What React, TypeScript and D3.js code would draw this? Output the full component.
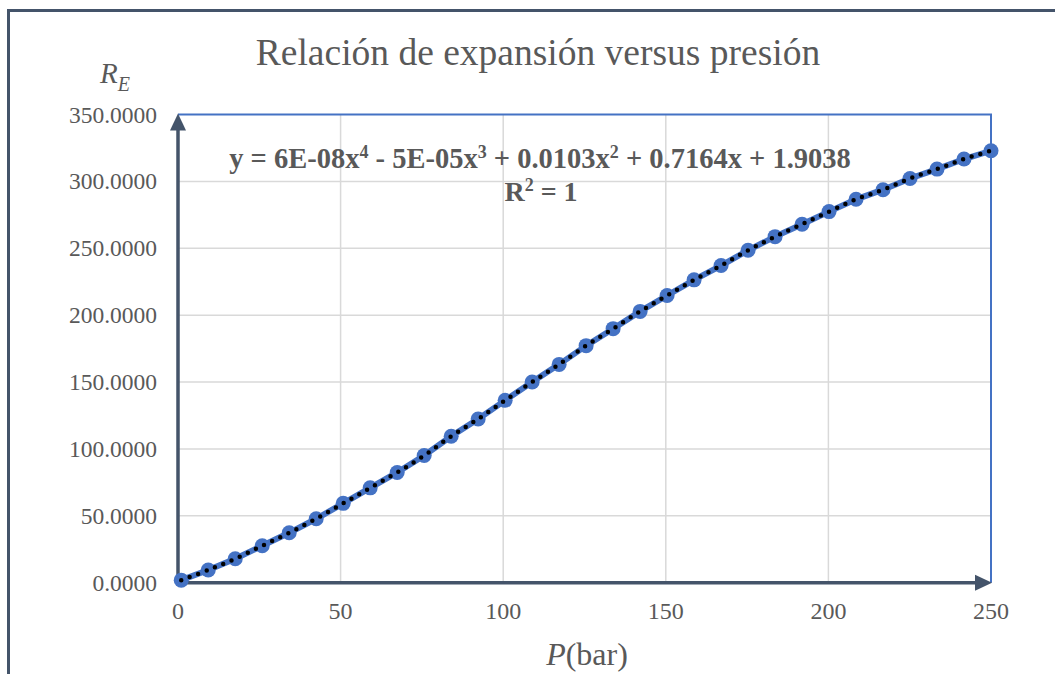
import React from "react";
import * as d3 from "d3";

const pressure = [1, 9.3, 17.6, 25.9, 34.2, 42.5, 50.8, 59.1, 67.4, 75.7, 84, 92.3, 100.6, 108.9, 117.2, 125.5, 133.8, 142.1, 150.4, 158.7, 167, 175.3, 183.6, 191.9, 200.2, 208.5, 216.8, 225.1, 233.4, 241.7, 250];
const ratio = [1.9, 9.5, 17.9, 27.6, 37.3, 47.8, 59.3, 70.9, 82.4, 95.1, 109.5, 122.4, 136.3, 150, 163.2, 177.2, 189.9, 202.8, 214.7, 226.4, 237.1, 248.5, 258.7, 268, 277.4, 286.6, 293.8, 302.2, 309.2, 316.7, 322.9];
const xTicks = [0, 50, 100, 150, 200, 250];
const yTicks = [0, 50, 100, 150, 200, 250, 300, 350];
const title = "Relación de expansión versus presión";

const W = 1055, H = 674;
const BLUE = "#4472c4";
const SLATE = "#44546a";
const TXT = "#595959";
const FONT = "'Liberation Serif', 'Times New Roman', serif";

export default function App() {
  const x = d3.scaleLinear().domain([0, 250]).range([178, 991]);
  const y = d3.scaleLinear().domain([0, 350]).range([582.7, 114.5]);
  const pts = pressure.map((p, i) => [p, ratio[i]] as [number, number]);
  const line = d3.line<[number, number]>().x(d => x(d[0])).y(d => y(d[1]));
  const trend = d3.line<[number, number]>().x(d => x(d[0])).y(d => y(d[1])).curve(d3.curveCatmullRom);
  const x0 = x(0), x1 = x(250), y0 = y(0), y1 = y(350);
  const sup = -10, supSize = 18;

  return (
    <svg width={W} height={H} style={{ position: "absolute", left: 0, top: 0, background: "#fff" }} fontFamily={FONT}>
      <rect x={8.5} y={10.5} width={1200} height={800} fill="#fff" stroke={SLATE} strokeWidth={3} />
      {/* gridlines */}
      {yTicks.filter(t => t > 0 && t < 350).map(t => (
        <line key={"gy" + t} x1={x0} x2={x1} y1={y(t)} y2={y(t)} stroke="#d9d9d9" strokeWidth={1.5} />
      ))}
      {xTicks.filter(t => t > 0 && t < 250).map(t => (
        <line key={"gx" + t} x1={x(t)} x2={x(t)} y1={y0} y2={y1} stroke="#d9d9d9" strokeWidth={1.5} />
      ))}
      {/* plot border top/right */}
      <path d={`M${x0},${y1}H${x1}V${y0}`} fill="none" stroke={BLUE} strokeWidth={2} />
      {/* axes */}
      <line x1={x0} x2={x0} y1={y0 + 1.5} y2={y1 + 12} stroke={SLATE} strokeWidth={3.5} />
      <path d={`M${x0},${y1 - 1} L${x0 - 8},${y1 + 16} L${x0 + 8},${y1 + 16} Z`} fill={SLATE} />
      <line x1={x0 - 1.5} x2={x1 - 12} y1={y0} y2={y0} stroke={SLATE} strokeWidth={3.5} />
      <path d={`M${x1 + 1},${y0} L${x1 - 16},${y0 - 8} L${x1 - 16},${y0 + 8} Z`} fill={SLATE} />
      {/* y tick labels */}
      {yTicks.map(t => (
        <text key={"ty" + t} x={157} y={y(t) + 8} textAnchor="end" fontSize={23.5} fill={TXT}>{t.toFixed(4)}</text>
      ))}
      {xTicks.map(t => (
        <text key={"tx" + t} x={x(t)} y={y0 + 36} textAnchor="middle" fontSize={24} fill={TXT}>{t}</text>
      ))}
      {/* series */}
      <path d={line(pts) || ""} fill="none" stroke={BLUE} strokeWidth={6} />
      {pts.map((d, i) => (
        <circle key={"c" + i} cx={x(d[0])} cy={y(d[1])} r={7.5} fill={BLUE} />
      ))}
      <path d={trend(pts) || ""} fill="none" stroke="#000" strokeWidth={4.5} strokeDasharray="0 9" strokeLinecap="round" />
      {/* title */}
      <text x={538} y={65} textAnchor="middle" fontSize={37.5} fill={TXT}>{title}</text>
      {/* equation */}
      <text x={540} y={168} textAnchor="middle" fontSize={28.5} fontWeight="bold" fill={TXT}>
        y = 6E-08x<tspan dy={sup} fontSize={supSize}>4</tspan><tspan dy={-sup}> - 5E-05x</tspan><tspan dy={sup} fontSize={supSize}>3</tspan><tspan dy={-sup}> + 0.0103x</tspan><tspan dy={sup} fontSize={supSize}>2</tspan><tspan dy={-sup}> + 0.7164x + 1.9038</tspan>
      </text>
      <text x={541} y={201} textAnchor="middle" fontSize={28} fontWeight="bold" fill={TXT}>
        R<tspan dy={sup} fontSize={supSize}>2</tspan><tspan dy={-sup}> = 1</tspan>
      </text>
      {/* axis titles */}
      <text x={100} y={83} fontSize={29} fill={TXT} fontStyle="italic">
        R<tspan dy={8} fontSize={20}>E</tspan>
      </text>
      <text x={587} y={665} textAnchor="middle" fontSize={32} fill={TXT}>
        <tspan fontStyle="italic">P</tspan>(bar)
      </text>
    </svg>
  );
}
